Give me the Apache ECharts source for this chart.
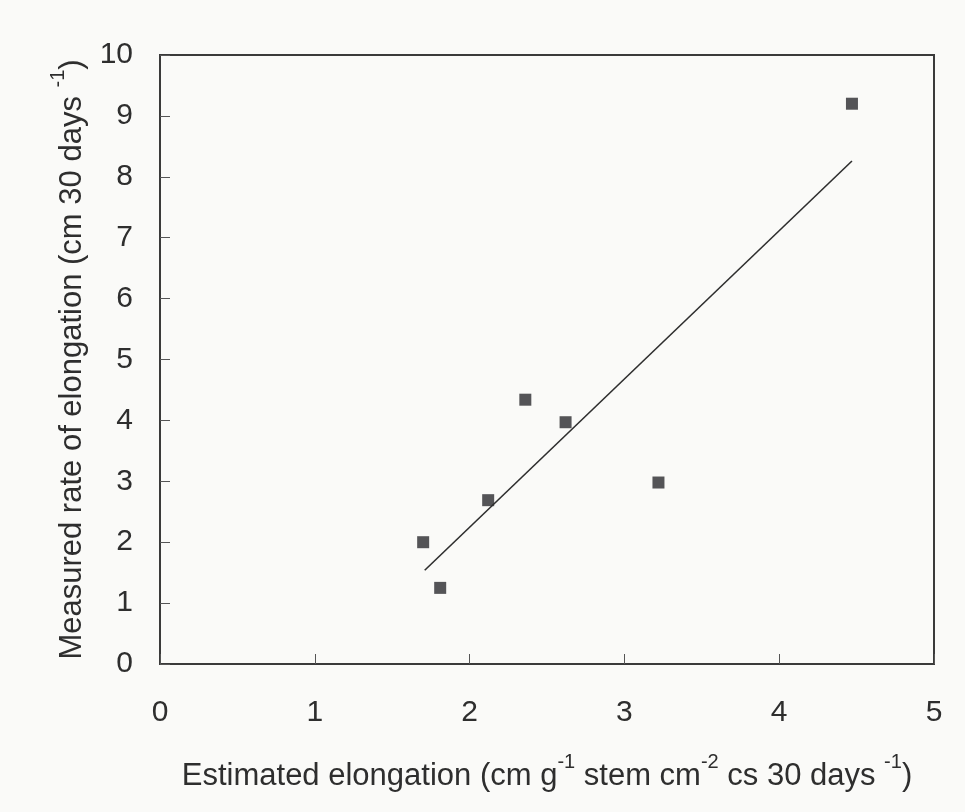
<!DOCTYPE html>
<html><head><meta charset="utf-8">
<script src="https://cdn.jsdelivr.net/npm/echarts@6/dist/echarts.min.js"></script>
<style>html,body{margin:0;padding:0;background:#fafaf8;}#c{width:965px;height:812px;}</style>
</head><body><div id="c"></div>
<script>
const estimated = [1.70, 1.81, 2.12, 2.36, 2.62, 3.22, 4.47];
const measured  = [2.00, 1.25, 2.69, 4.34, 3.97, 2.98, 9.20];
const trendX = [1.71, 4.47];
const trendY = [1.54, 8.26];
const xTicks = [0, 1, 2, 3, 4, 5];
const yTicks = [0, 1, 2, 3, 4, 5, 6, 7, 8, 9, 10];

const FONT = "'Liberation Sans',Arial,sans-serif";
const TXT = '#2e2e2e';
const chart = echarts.init(document.getElementById('c'));
chart.setOption({
  backgroundColor: '#fafaf8',
  animation: false,
  grid: {left: 160, right: 31, top: 55, bottom: 148, show: true, borderColor: '#3a3a3a', borderWidth: 2, backgroundColor: 'transparent'},
  xAxis: {
    type: 'value', min: xTicks[0], max: xTicks[xTicks.length-1], interval: 1,
    axisLine: {show: true, lineStyle: {color: '#3a3a3a', width: 2}},
    axisTick: {show: true, inside: true, length: 10, lineStyle: {color: '#555', width: 1}},
    splitLine: {show: false},
    axisLabel: {fontFamily: FONT, fontSize: 30, color: TXT, margin: 34},
    name: '{n|Estimated elongation (cm g}{s|-1}{n| stem cm}{s|-2}{n| cs 30 days }{s|-1}{n|)}',
    nameLocation: 'middle', nameGap: 88,
    nameTextStyle: {
      rich: {
        n: {fontFamily: FONT, fontSize: 31, color: TXT, lineHeight: 40, verticalAlign: 'bottom'},
        s: {fontFamily: FONT, fontSize: 20, color: TXT, lineHeight: 40, verticalAlign: 'top'}
      }
    }
  },
  yAxis: {
    type: 'value', min: yTicks[0], max: yTicks[yTicks.length-1], interval: 1,
    axisLine: {show: true, lineStyle: {color: '#3a3a3a', width: 2}},
    axisTick: {show: true, inside: true, length: 10, lineStyle: {color: '#555', width: 1}},
    splitLine: {show: false},
    axisLabel: {fontFamily: FONT, fontSize: 30, color: TXT, margin: 27},
    name: '{n|Measured rate of elongation (cm 30 days }{s|-1}{n|)}',
    nameLocation: 'middle', nameGap: 72,
    nameTextStyle: {
      rich: {
        n: {fontFamily: FONT, fontSize: 31, color: TXT, lineHeight: 40, verticalAlign: 'bottom'},
        s: {fontFamily: FONT, fontSize: 20, color: TXT, lineHeight: 40, verticalAlign: 'top'}
      }
    }
  },
  series: [
    {
      type: 'scatter', symbol: 'rect', symbolSize: 12,
      itemStyle: {color: '#2b2b2e'},
      data: estimated.map((x, i) => [x, measured[i]])
    },
    {
      type: 'line', showSymbol: false, symbol: 'none',
      lineStyle: {color: '#2e2e2e', width: 1.6},
      data: trendX.map((x, i) => [x, trendY[i]])
    }
  ]
});
</script></body></html>
